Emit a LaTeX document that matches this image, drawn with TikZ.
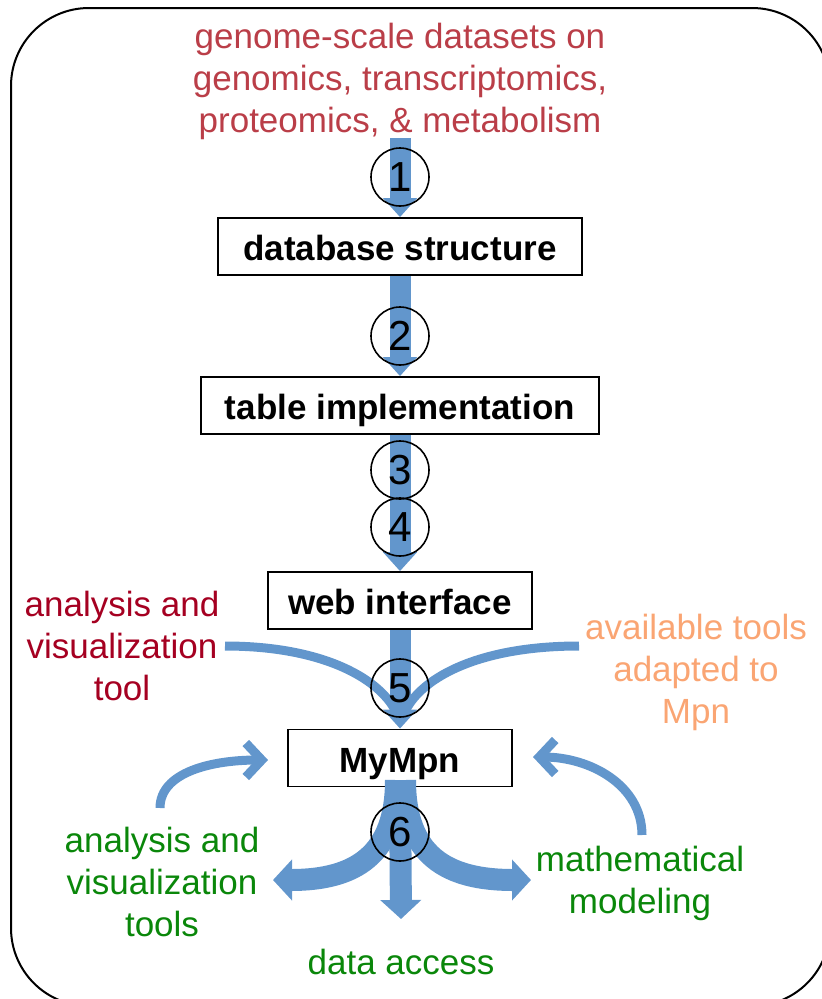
\documentclass[tikz,border=0pt]{standalone}
\usepackage{fontspec}
\setmainfont{Liberation Sans}
\usetikzlibrary{arrows.meta}
\definecolor{flowblue}{RGB}{98,150,204}
\definecolor{inred}{RGB}{186,62,72}
\definecolor{toolred}{RGB}{165,0,33}
\definecolor{peach}{RGB}{250,165,115}
\definecolor{outgreen}{RGB}{10,135,10}
\tikzset{
  stagebox/.style={draw=black, line width=1.8pt, fill=white, inner sep=0pt,
    minimum height=57pt, text height=28pt, text depth=0pt,
    font=\fontsize{35}{41}\bfseries\selectfont},
  stepnum/.style={circle, draw=black, line width=1.6pt, inner sep=0pt,
    minimum size=58pt, font=\fontsize{42}{42}\selectfont},
  label/.style={align=center, inner sep=0pt, font=\fontsize{35}{42}\selectfont},
  mainflow/.style={draw=flowblue, line width=21pt,
    -{Triangle[length=19pt,width=33pt]}},
  sideflow/.style={draw=flowblue, line width=9pt},
  bigout/.style={draw=flowblue, line width=22pt,
    -{Triangle[length=19pt,width=40pt]}},
  feedback/.style={draw=flowblue, line width=9pt,
    -{Straight Barb[length=16pt,width=34pt]}}
}
\begin{document}
\begin{tikzpicture}[x=1pt,y=-1pt]
\useasboundingbox (0,0) rectangle (822,999);
\clip (0,0) rectangle (822,999);
% outer frame
\draw[line width=2pt, rounded corners=78pt] (11,8) rectangle (830,1006);

% inputs and stages
\node[label, text=inred] (data) at (400,81)
  {genome-scale datasets on\\genomics, transcriptomics,\\proteomics, \& metabolism};
\coordinate (datafoot) at (400,138);
\node[stagebox, minimum width=364pt] (db) at (400,246.5) {database structure};
\node[stagebox, minimum width=398pt] (ti) at (400,405.5) {table implementation};
\node[stagebox, minimum width=264pt] (wi) at (400,600.5) {web interface};
\node[stagebox, minimum width=224pt] (my) at (400,758) {MyMpn};

% side inputs to MyMpn
\node[label, text=toolred] (avt) at (122,646) {analysis and\\visualization\\tool};
\node[label, text=peach] (adt) at (696,672) {available tools\\adapted to\\Mpn};
\coordinate (avtend) at (225,646);
\coordinate (adtend) at (579,646);
\coordinate (mergeL) at (397,714);
\coordinate (mergeR) at (404,714);
\draw[sideflow] (avtend) .. controls (325,646) and (382,680) .. (mergeL);
\draw[sideflow] (adtend) .. controls (475,646) and (418,680) .. (mergeR);

% main flow
\draw[mainflow] (datafoot) -- (db.north);
\draw[mainflow] (db.south) -- (ti.north);
\draw[mainflow] (ti.south) -- (wi.north);
\draw[mainflow] (wi.south) -- (my.north);

% outputs
\node[label, text=outgreen] (avo) at (162,882) {analysis and\\visualization\\tools};
\node[label, text=outgreen] (mm) at (640,883) {mathematical\\modeling};
\node[label, text=outgreen] (da) at (401,962) {data access};
\coordinate (toL) at (273,880);
\coordinate (toR) at (531,880);
\coordinate (toD) at (401,919);
\draw[bigout] (396,780) .. controls (396,855) and (355,880) .. (toL);
\draw[bigout] (405,780) .. controls (405,855) and (446,880) .. (toR);
\draw[bigout] (my.south) -- (toD);

% feedback into MyMpn
\coordinate (fbL) at (160,808);
\coordinate (fbR) at (642,835);
\coordinate (inL) at (268,760);
\coordinate (inR) at (533,757);
\draw[feedback] (fbL) .. controls (160,772) and (212,760) .. (inL);
\draw[feedback] (fbR) .. controls (642,785) and (590,757) .. (inR);

% step numbers
\node[stepnum] (s1) at (400,177) {1};
\node[stepnum] (s2) at (400,336) {2};
\node[stepnum] (s3) at (400,470) {3};
\node[stepnum] (s4) at (400,527) {4};
\node[stepnum] (s5) at (400,688) {5};
\node[stepnum] (s6) at (400,832) {6};
\end{tikzpicture}
\end{document}
